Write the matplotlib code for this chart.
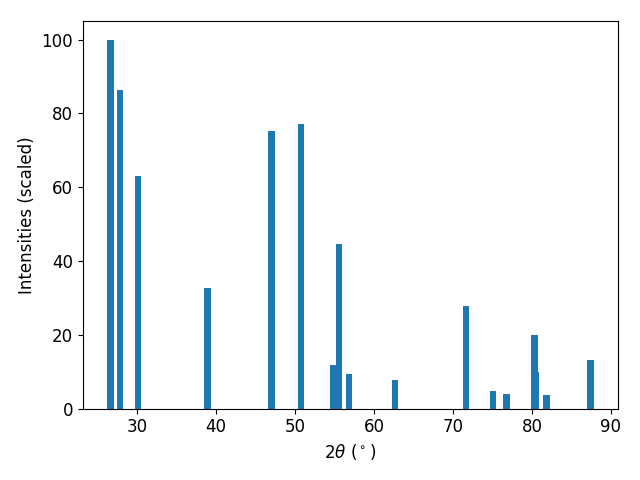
import numpy as np
import matplotlib
matplotlib.use("Agg")
import matplotlib.pyplot as plt

# peak positions (2theta, deg) and scaled intensities
two_theta = [26.6, 27.85, 30.1, 38.9, 47.0, 50.76, 54.8, 55.57, 56.84, 62.66,
             71.65, 75.06, 76.77, 80.3, 80.48, 81.84, 87.4]
intensity = [100.0, 86.4, 63.1, 32.8, 75.3, 77.0, 11.9, 44.7, 9.5, 7.9,
             27.9, 4.9, 4.1, 20.0, 10.0, 3.8, 13.3]

plt.rcParams['font.size'] = 12

fig, ax = plt.subplots(figsize=(6.4, 4.8), dpi=100)
ax.bar(two_theta, intensity, width=0.8)
ax.set_xlabel(r'$2\theta$ ($^\circ$)')
ax.set_ylabel('Intensities (scaled)')
plt.tight_layout()
fig.subplots_adjust(top=0.956)
plt.savefig('out.png')
